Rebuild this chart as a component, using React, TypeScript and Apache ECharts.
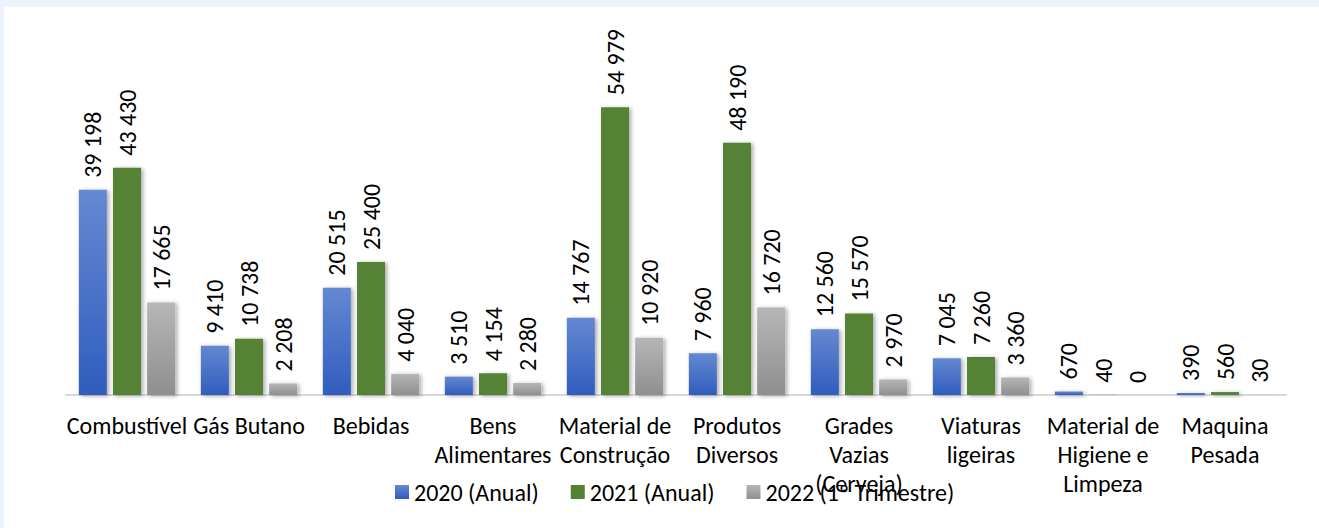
import React, { useEffect, useRef } from "react";
import * as echarts from "echarts";

const categories = [
  "Combustível",
  "Gás Butano",
  "Bebidas",
  "Bens\nAlimentares",
  "Material de\nConstrução",
  "Produtos\nDiversos",
  "Grades\nVazias\n(Cerveja)",
  "Viaturas\nligeiras",
  "Material de\nHigiene e\nLimpeza",
  "Maquina\nPesada",
];

const seriesNames = ["2020 (Anual)", "2021 (Anual)", "2022 (1º Trimestre)"];

const values2020 = [39198, 9410, 20515, 3510, 14767, 7960, 12560, 7045, 670, 390];
const values2021 = [43430, 10738, 25400, 4154, 54979, 48190, 15570, 7260, 40, 560];
const values2022 = [17665, 2208, 4040, 2280, 10920, 16720, 2970, 3360, 0, 30];

const FONT = "Carlito, Calibri, Lato, sans-serif";

function fmt(v: number): string {
  return String(v).replace(/\B(?=(\d{3})+(?!\d))/g, " ");
}

export default function App() {
  const ref = useRef<HTMLDivElement>(null);

  useEffect(() => {
    document.body.style.margin = "0";
    if (!ref.current) return;
    const chart = echarts.init(ref.current, undefined, { renderer: "svg" });

    const blue = new echarts.graphic.LinearGradient(0, 0, 0, 1, [
      { offset: 0, color: "#6588D1" },
      { offset: 1, color: "#2F5DBE" },
    ]);
    const gray = new echarts.graphic.LinearGradient(0, 0, 0, 1, [
      { offset: 0, color: "#B6B6B6" },
      { offset: 1, color: "#8F8F8F" },
    ]);
    const green = "#548235";

    const label = {
      show: true,
      position: "top" as const,
      rotate: 90,
      align: "left" as const,
      verticalAlign: "middle" as const,
      distance: 12,
      fontFamily: FONT,
      fontSize: 24,
      color: "#000",
      formatter: (p: any) => fmt(p.value),
    };

    const mk = (name: string, data: number[], color: any) => ({
      name,
      type: "bar" as const,
      data,
      barWidth: 28,
      barGap: "22%",
      itemStyle: {
        color,
        shadowColor: "rgba(0,0,0,0.35)",
        shadowBlur: 4,
        shadowOffsetX: 2,
        shadowOffsetY: 1,
      },
      label,
    });

    chart.setOption({
      animation: false,
      backgroundColor: "#FFFFFF",
      grid: { left: 62, right: 33, top: 74, bottom: 133, containLabel: false },
      legend: {
        left: 386,
        top: 468,
        itemWidth: 14,
        itemHeight: 14,
        itemGap: 32,
        icon: "rect",
        textStyle: { fontFamily: FONT, fontSize: 24, color: "#000", padding: [0, 0, 0, 0] },
        data: seriesNames,
      },
      xAxis: {
        type: "category",
        data: categories,
        axisLine: { show: true, lineStyle: { color: "#D9D9D9", width: 2 } },
        axisTick: { show: false },
        axisLabel: {
          interval: 0,
          margin: 16,
          fontFamily: FONT,
          fontSize: 24,
          lineHeight: 29,
          color: "#000",
        },
      },
      yAxis: {
        type: "value",
        min: 0,
        max: 60000,
        show: false,
        splitLine: { show: false },
      },
      series: [
        mk(seriesNames[0], values2020, blue),
        mk(seriesNames[1], values2021, green),
        mk(seriesNames[2], values2022, gray),
      ],
    });

    return () => chart.dispose();
  }, []);

  return (
    <div
      style={{
        position: "fixed",
        left: 0,
        top: 0,
        width: 1319,
        height: 528,
        background: "#EDF3FC",
      }}
    >
      <div
        ref={ref}
        style={{ position: "absolute", left: 4, top: 7, width: 1315, height: 521 }}
      />
    </div>
  );
}
